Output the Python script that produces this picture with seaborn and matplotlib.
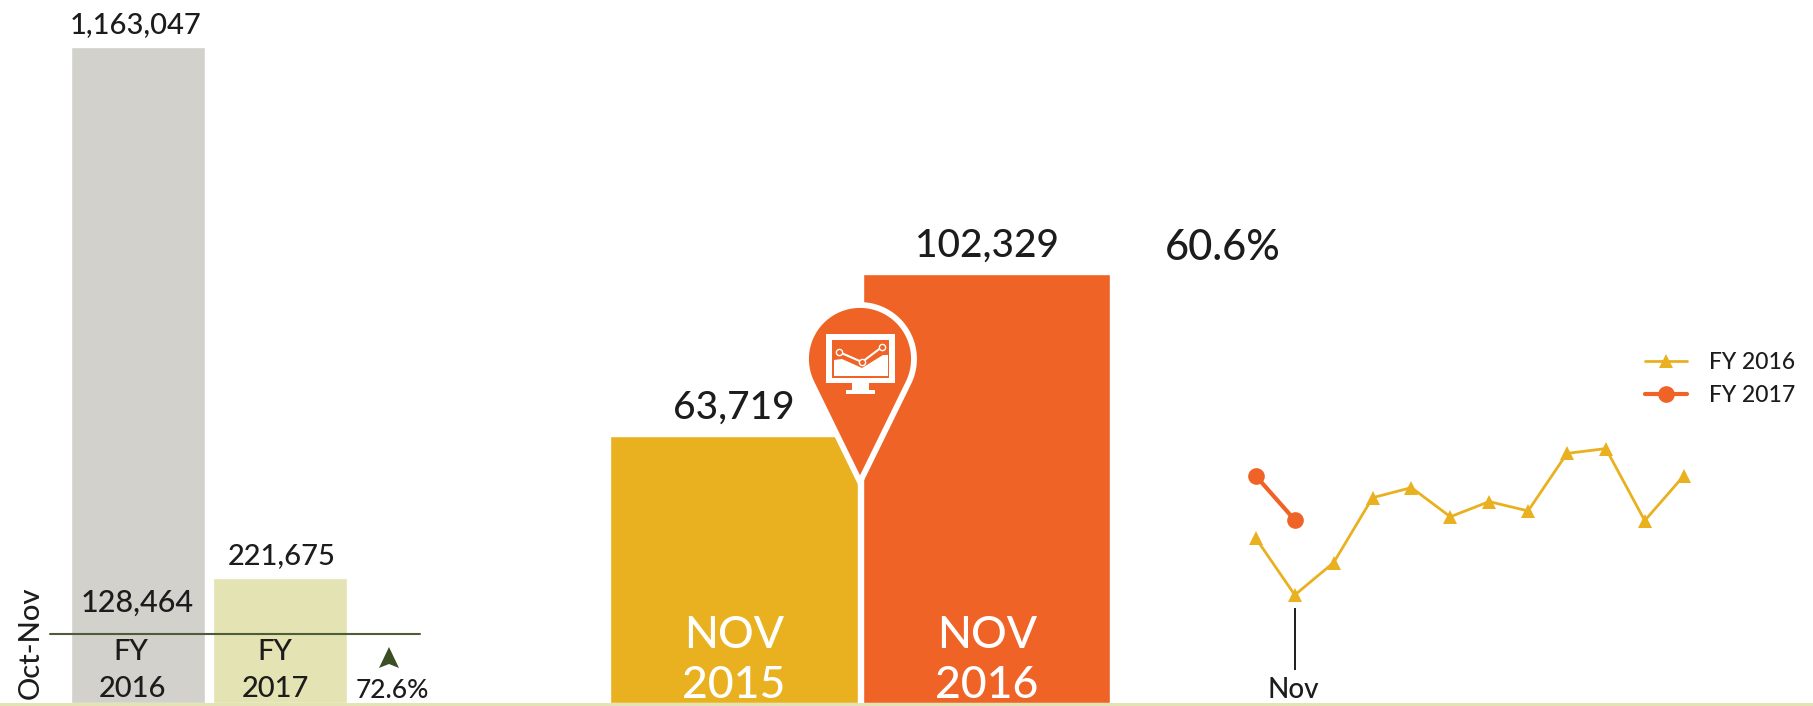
import numpy as np
import pandas as pd
import matplotlib
matplotlib.use('Agg')
import matplotlib.pyplot as plt
from matplotlib.lines import Line2D
from matplotlib.patches import Polygon, Rectangle
import seaborn as sns

# data
fy_labels = ['FY 2016', 'FY 2017']
fy_totals = [1163047, 221675]
nov_labels = ['NOV 2015', 'NOV 2016']
nov_values = [63719, 102329]
months = ['Oct', 'Nov', 'Dec', 'Jan', 'Feb', 'Mar', 'Apr', 'May', 'Jun', 'Jul', 'Aug', 'Sep']
fy2016_monthly = [92900, 63719, 80400, 113800, 119000, 104000, 111800, 107000, 136600, 139100, 102000, 125000]
fy2017_monthly = [125000, 102329]

W, H = 1813, 706
GRAY = '#D2D1CC'
PALE = '#E3E3B3'
YELLOW = '#E9B120'
ORANGE = '#EF6326'
INK = '#1c1c1c'

sns.set_theme(style='white')
plt.rcParams['font.family'] = ['Lato', 'DejaVu Sans']
plt.rcParams['font.weight'] = 'medium'


def make_axes(fig, left, right, top, bottom):
    """axes from pixel edges (y measured from the top)"""
    ax = fig.add_axes([left / W, 1 - bottom / H, (right - left) / W, (bottom - top) / H])
    ax.axis('off')
    return ax


def ptext(fig, x, y, s, size, color=INK, **kw):
    """text at pixel position"""
    fig.text(x / W, 1 - y / H, s, fontsize=size, color=color, ha='center', va='center', **kw)


def pts(points):
    return [(x / W, 1 - y / H) for x, y in points]


def draw_pin(fig, cx=860, cy=359, r=54, tip=482):
    """map pin with a small monitor icon"""
    d = tip - cy
    a = np.arccos(r / d)
    ang = np.linspace(-np.pi / 2 + a, 1.5 * np.pi - a, 80)
    outline = [(cx + r * np.cos(t), cy - r * np.sin(t)) for t in ang[::-1]]
    outline = [(cx, tip)] + outline
    fig.add_artist(Polygon(pts(outline), closed=True, facecolor=ORANGE, edgecolor='white',
                           linewidth=4.2, joinstyle='miter', transform=fig.transFigure, zorder=5))
    white = dict(facecolor='white', edgecolor='none', transform=fig.transFigure, zorder=6)
    fig.add_artist(Polygon(pts([(826, 334), (895, 334), (895, 383), (826, 383)]), **white))
    fig.add_artist(Polygon(pts([(852, 383), (869, 383), (869, 390), (875, 390), (875, 394),
                                (846, 394), (846, 390), (852, 390)]), **white))
    fig.add_artist(Polygon(pts([(832, 340), (889, 340), (889, 378), (832, 378)]),
                           facecolor=ORANGE, edgecolor='none', transform=fig.transFigure, zorder=7))
    fig.add_artist(Polygon(pts([(834, 360), (842, 359), (862, 368), (883, 355), (888, 355),
                                (888, 376), (834, 376)]),
                           facecolor='white', edgecolor='none', transform=fig.transFigure, zorder=8))
    xs, ys = zip(*pts([(839, 352), (862, 362), (882, 347)]))
    fig.add_artist(Line2D(xs, ys, color='white', lw=1.5, marker='o', ms=4.5, mfc=ORANGE,
                          mec='white', mew=1, transform=fig.transFigure, zorder=9))


fig = plt.figure(figsize=(W / 100, H / 100), dpi=100)

# left panel, fiscal year totals
ax_fy = make_axes(fig, 67, 351, 47, 703)
sns.barplot(x=fy_labels, y=fy_totals, hue=fy_labels, palette=[GRAY, PALE], width=0.95,
            saturation=1, legend=False, ax=ax_fy)
ax_fy.set_xlim(-0.5, 1.5)
ax_fy.set_ylim(0, fy_totals[0])
ax_fy.axis('off')
for i, v in enumerate(fy_totals):
    ax_fy.annotate(f'{v:,}', (i, v), xytext=(-2 if i == 0 else 1, 16), textcoords='offset points',
                   ha='center', va='center', fontsize=21, color=INK, annotation_clip=False)

ptext(fig, 137, 603, '128,464', 22)
ptext(fig, 131, 652, 'FY', 21)
ptext(fig, 133, 689, '2016', 21)
ptext(fig, 275, 652, 'FY', 21)
ptext(fig, 275, 689, '2017', 21)
ptext(fig, 31, 643, 'Oct-Nov', 21, rotation=90)
ptext(fig, 392, 691, '72.6%', 19)
fig.add_artist(Line2D([50 / W, 420 / W], [1 - 634 / H] * 2, color='#4f5c3a', lw=1.5,
                      transform=fig.transFigure, zorder=4))
fig.add_artist(Polygon(pts([(389, 647), (399, 668), (389, 664), (379, 668)]), facecolor='#3c4f24',
                       edgecolor='none', transform=fig.transFigure, zorder=4))

# middle panel, November comparison
ax_nov = make_axes(fig, 607.5, 1113, 274, 703)
sns.barplot(x=nov_labels, y=nov_values, hue=nov_labels, palette=[YELLOW, ORANGE], width=0.98,
            saturation=1, legend=False, ax=ax_nov)
ax_nov.set_xlim(-0.5, 1.5)
ax_nov.set_ylim(0, nov_values[1])
ax_nov.axis('off')
for i, v in enumerate(nov_values):
    ax_nov.annotate(f'{v:,}', (i, v), xytext=(0, 20), textcoords='offset points',
                    ha='center', va='center', fontsize=28, color=INK, annotation_clip=False)
    month, year = nov_labels[i].split()
    cx = [734, 987][i]
    ptext(fig, cx, 635, month, 32, color='white')
    ptext(fig, cx, 686, year, 32, color='white')

ptext(fig, 1223, 248, '60.6%', 30)
draw_pin(fig)

# right panel, monthly lines
monthly = pd.concat([
    pd.DataFrame({'month': np.arange(len(fy2016_monthly)), 'value': fy2016_monthly, 'series': fy_labels[0]}),
    pd.DataFrame({'month': np.arange(len(fy2017_monthly)), 'value': fy2017_monthly, 'series': fy_labels[1]}),
])
ax_line = make_axes(fig, 1217, 1722.5, 300, 703)
sns.lineplot(data=monthly, x='month', y='value', hue='series', style='series',
             palette=[YELLOW, ORANGE], markers=['^', 'o'], dashes=False, ax=ax_line)
for line, lw, ms in zip(ax_line.lines, [2, 3], [10, 12]):
    line.set_linewidth(lw)
    line.set_markersize(ms)
    line.set_markeredgewidth(0)
ax_line.set_xlim(-1, 12)
ax_line.set_ylim(8121, 215585)
ax_line.axis('off')
ax_line.vlines(months.index('Nov'), 25100, 57000, color=INK, lw=1.4)
handles, labels = ax_line.get_legend_handles_labels()
for h, lw, ms in zip(handles, [2, 3], [10, 12]):
    h.set_linewidth(lw)
    h.set_markersize(ms)
    h.set_markeredgewidth(0)
ax_line.legend(handles, labels, loc='center left', bbox_to_anchor=(1624 / W, 1 - 379 / H),
               bbox_transform=fig.transFigure, frameon=False, fontsize=16.5, labelcolor=INK,
               handlelength=1.85, handletextpad=0.95, labelspacing=0.5)
ptext(fig, 1293, 690, 'Nov', 20)

# strip along the bottom edge
fig.add_artist(Rectangle((0, 0), 1, 3 / H, facecolor=PALE, edgecolor='none',
                         transform=fig.transFigure, zorder=20))

plt.savefig('out.png', dpi=100)
